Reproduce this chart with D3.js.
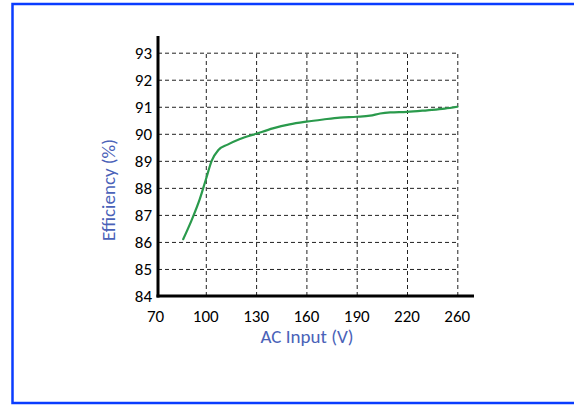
<!DOCTYPE html>
<html>
<head>
<meta charset="utf-8">
<script src="https://cdn.jsdelivr.net/npm/d3@7"></script>
<style>
  body { margin: 0; background: #fff; }
  svg { display: block; font-family: Carlito, Lato, "Noto Sans", sans-serif; }
  .grid line { stroke: #222; stroke-dasharray: 4 3; stroke-width: 1; }
  .grid .domain { display: none; }
  .tick-label { font-size: 17px; fill: #000; }
  .axis-title { font-size: 19px; fill: #4a62b8; }
</style>
</head>
<body>
<div id="chart"></div>
<script>
// AC input (V) vs efficiency (%)
const xTicks = [70, 100, 130, 160, 190, 220, 260];
const yTicks = [84, 85, 86, 87, 88, 89, 90, 91, 92, 93];
const voltage = [86.5, 91.5, 96.5, 100, 103.5, 107.5, 113, 120, 130, 140, 150, 160,
  170, 180, 190, 198, 204, 210, 220, 236, 250, 260];
const efficiency = [86.1, 86.8, 87.6, 88.3, 89.0, 89.4, 89.6, 89.8, 90.0, 90.2, 90.35, 90.45,
  90.53, 90.6, 90.63, 90.67, 90.75, 90.79, 90.81, 90.87, 90.93, 91.0];

const width = 574;
const height = 405;
const axisX = 158; // where the vertical axis line sits
const axisY = 296;
const step = 50.3; // tick labels are evenly spaced even though 220 -> 260 is 40V

const svg = d3.select('#chart')
  .append('svg')
  .attr('width', width)
  .attr('height', height);

// blue frame, runs off the right edge
svg.append('rect')
  .attr('x', 12.5)
  .attr('y', 4)
  .attr('width', 600)
  .attr('height', 399)
  .attr('fill', 'none')
  .attr('stroke', '#0a3cff')
  .attr('stroke-width', 2.5);

const x = d3.scaleLinear()
  .domain(xTicks)
  .range(xTicks.map((d, i) => 155.5 + i * step));

const y = d3.scaleLinear()
  .domain([84, 93])
  .range([axisY, 52.7]);

// horizontal dashed grid
svg.append('g')
  .attr('class', 'grid')
  .attr('transform', 'translate(' + axisX + ',0)')
  .call(d3.axisRight(y)
    .tickValues(yTicks.slice(1))
    .tickSize(x(260) - axisX)
    .tickFormat(''));

// vertical dashed grid
svg.append('g')
  .attr('class', 'grid')
  .attr('transform', 'translate(0,' + axisY + ')')
  .call(d3.axisTop(x)
    .tickValues(xTicks.slice(1))
    .tickSize(axisY - y(93))
    .tickFormat(''));

// tick labels
svg.append('g')
  .selectAll('text')
  .data(yTicks)
  .join('text')
  .attr('class', 'tick-label')
  .attr('x', 152)
  .attr('y', (d) => y(d))
  .attr('dy', '0.36em')
  .attr('text-anchor', 'end')
  .text((d) => d);

svg.append('g')
  .selectAll('text')
  .data(xTicks)
  .join('text')
  .attr('class', 'tick-label')
  .attr('x', (d) => x(d))
  .attr('y', 322)
  .attr('text-anchor', 'middle')
  .text((d) => d);

// the two solid axis lines
svg.append('line')
  .attr('x1', axisX).attr('x2', axisX)
  .attr('y1', 36).attr('y2', axisY + 1.5)
  .attr('stroke', '#000')
  .attr('stroke-width', 3);

svg.append('line')
  .attr('x1', axisX - 1.5).attr('x2', 474)
  .attr('y1', axisY).attr('y2', axisY)
  .attr('stroke', '#000')
  .attr('stroke-width', 3);

// efficiency curve
const line = d3.line()
  .x((d, i) => x(voltage[i]))
  .y((d) => y(d))
  .curve(d3.curveMonotoneX);

svg.append('path')
  .attr('d', line(efficiency))
  .attr('fill', 'none')
  .attr('stroke', '#2a9a4c')
  .attr('stroke-width', 2.2)
  .attr('stroke-linecap', 'round');

// axis titles
svg.append('text')
  .attr('class', 'axis-title')
  .attr('x', 307)
  .attr('y', 343)
  .attr('text-anchor', 'middle')
  .text('AC Input (V)');

svg.append('text')
  .attr('class', 'axis-title')
  .attr('transform', 'translate(115,190) rotate(-90)')
  .attr('text-anchor', 'middle')
  .text('Efficiency (%)');
</script>
</body>
</html>
